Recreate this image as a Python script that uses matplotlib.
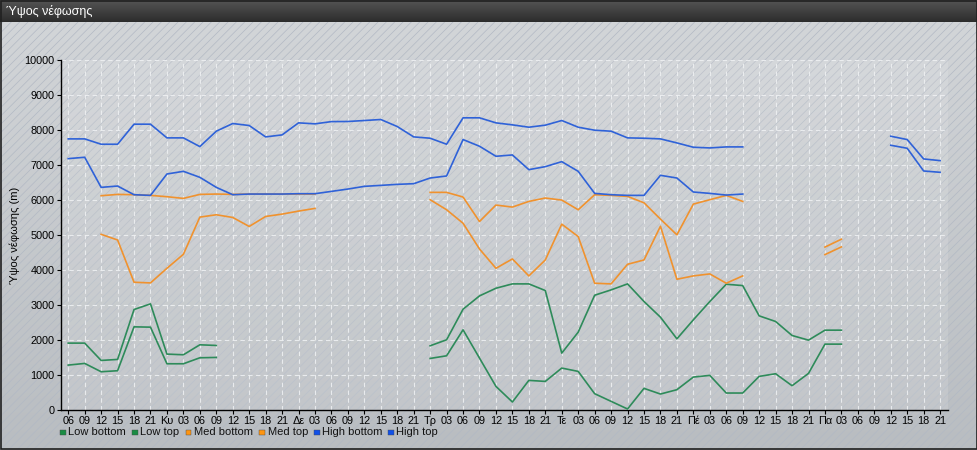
import numpy as np
import matplotlib
matplotlib.use("Agg")
import matplotlib.pyplot as plt
from matplotlib.patches import Rectangle
from matplotlib.colors import LinearSegmentedColormap

nan = np.nan

days = ["Κυ", "Δε", "Τρ", "Τε", "Πέ", "Πα"]
hours = ["03", "06", "09", "12", "15", "18", "21"]
tick_labels = ["06", "09", "12", "15", "18", "21"]
for d in days:
    tick_labels += [d] + hours

low_bottom = [1283, 1331, 1093, 1122, 2376, 2367, 1321, 1321, 1492, 1502,
              nan, nan, nan, nan, nan, nan, nan, nan, nan, nan, nan, nan,
              1473, 1549, 2291, 1483, 675, 228, 846, 817, 1198, 1103, 466, 247, 29, 618,
              456, 580, 941, 989, 485, 485, 960, 1036, 694, 1046, 1882, 1882,
              nan, nan, nan, nan, nan, nan]
low_top = [1911, 1911, 1416, 1445, 2871, 3032, 1597, 1578, 1863, 1844,
           nan, nan, nan, nan, nan, nan, nan, nan, nan, nan, nan, nan,
           1835, 2006, 2880, 3260, 3479, 3603, 3603, 3413, 1625, 2224, 3279, 3432, 3603, 3100,
           2652, 2034, 2576, 3099, 3593, 3555, 2690, 2529, 2129, 1996, 2281, 2281,
           nan, nan, nan, nan, nan, nan]
med_bottom = [nan, nan, 5019, 4857, 3650, 3631, 4049, 4449, 5511, 5578,
              5501, 5244, 5530, 5597, 5683, 5760, nan, nan, nan, nan, nan, nan,
              6008, 5721, 5336, 4600, 4049, 4316, 3831, 4287, 5310, 4955, 3622, 3603, 4163, 4287,
              5250, 3736, 3831, 3888, 3622, 3831, nan, nan, nan, nan, 4440, 4660,
              nan, nan, nan, nan, nan, nan]
med_top = [nan, nan, 6122, 6160, 6151, 6132, 6094, 6046, 6160, 6170,
           6160, 6170, 6170, 6170, 6170, 6170, nan, nan, nan, nan, nan, nan,
           6218, 6218, 6085, 5385, 5855, 5798, 5960, 6056, 5998, 5721, 6151, 6132, 6103, 5920,
           5454, 5005, 5883, 6008, 6132, 5960, nan, nan, nan, nan, 4655, 4880,
           nan, nan, nan, nan, nan, nan]
high_bottom = [7182, 7221, 6361, 6399, 6151, 6132, 6743, 6819, 6648, 6361,
               6151, 6170, 6170, 6170, 6180, 6180, 6246, 6313, 6390, 6418, 6447, 6466,
               6628, 6686, 7727, 7536, 7249, 7287, 6867, 6953, 7096, 6819, 6189, 6151, 6132, 6132,
               6705, 6628, 6228, 6189, 6141, 6170, nan, nan, nan, nan, nan, nan,
               nan, nan, 7564, 7478, 6829, 6791]
high_top = [7746, 7746, 7593, 7593, 8166, 8166, 7775, 7775, 7526, 7966,
            8185, 8128, 7803, 7860, 8204, 8176, 8240, 8243, 8271, 8300, 8099, 7803,
            7765, 7593, 8348, 8348, 8204, 8147, 8080, 8138, 8271, 8080, 7994, 7966, 7775, 7765,
            7746, 7631, 7507, 7488, 7517, 7517, nan, nan, nan, nan, nan, nan,
            nan, nan, 7822, 7727, 7173, 7125]

series_names = ["Low bottom", "Low top", "Med bottom", "Med top", "High bottom", "High top"]
series_values = [low_bottom, low_top, med_bottom, med_top, high_bottom, high_top]
line_colors = ["#2e8b5a", "#2e8b5a", "#f0922e", "#f0922e", "#2f62d8", "#2f62d8"]
legend_colors = ["#1a8c44", "#1a8c44", "#ff9510", "#ff9510", "#1050e8", "#1050e8"]

plt.rcParams['font.family'] = ['Liberation Sans', 'DejaVu Sans']
plt.rcParams['hatch.linewidth'] = 0.5

W, H = 978, 450
fig = plt.figure(figsize=(W / 100, H / 100), dpi=100)

# background
bg = fig.add_axes([0, 0, 1, 1], zorder=-5)
bg.set_xlim(0, W)
bg.set_ylim(H, 0)
bg.axis('off')
grad = np.linspace(0, 1, 256).reshape(-1, 1)
body_cmap = LinearSegmentedColormap.from_list("b", ["#d2d5d8", "#b9bdc1"])
bg.imshow(grad, extent=[0, W, H, 22], cmap=body_cmap, aspect='auto', zorder=0)
title_cmap = LinearSegmentedColormap.from_list("t", ["#555555", "#2c2c2c"])
bg.imshow(grad, extent=[0, W, 22, 0], cmap=title_cmap, aspect='auto', zorder=1)
bg.add_patch(Rectangle((0, 22), W, H - 22, facecolor='none', edgecolor='#b2b9c4',
                       hatch='////', linewidth=0, zorder=2))
bg.add_patch(Rectangle((0.5, 0.5), W - 1.5, H - 1.5, facecolor='none', edgecolor='#202020',
                       linewidth=1.2, zorder=3))
bg.text(6, 12, "Ύψος νέφωσης", color='white', fontsize=9, va='center', ha='left', zorder=4)

# legend (manual)
legend_x = [63, 135, 188.5, 262, 317, 391]
for lx, name, c in zip(legend_x, series_names, legend_colors):
    bg.add_patch(Rectangle((lx - 2.7, 432.3 - 2.7), 5.4, 5.4, facecolor=c, edgecolor='#4a4a4a',
                           linewidth=0.3, zorder=4))
    bg.text(lx + 5.5, 431.8, name, fontsize=8, va='center', ha='left', color='#111111', zorder=4)

# main axes
x0, x1, ytop, ybot = 61, 948, 60, 410
ax = fig.add_axes([x0 / W, (H - ybot) / H, (x1 - x0) / W, (ybot - ytop) / H])
ax.set_facecolor((1, 1, 1, 0.12))

xs = np.arange(len(tick_labels))
for name, vals, c in zip(series_names, series_values, line_colors):
    ax.plot(xs, np.array(vals, dtype=float), color=c, linewidth=1.2, label=name, zorder=3)

ax.set_xlim(-0.44, 53.48)
ax.set_ylim(0, 10000)
ax.set_xticks(xs)
ax.set_xticklabels(tick_labels, fontsize=7.8)
ax.set_yticks(np.arange(0, 10001, 1000))
ax.set_yticklabels([str(v) for v in range(0, 10001, 1000)], fontsize=7.8)
ax.tick_params(axis='both', length=3, width=0.8, color='black', pad=1.5, labelcolor='black')
for s in ['top', 'right']:
    ax.spines[s].set_visible(False)
for s in ['left', 'bottom']:
    ax.spines[s].set_color('black')
    ax.spines[s].set_linewidth(1.0)
ax.grid(True, color='#eef0f2', linestyle=(0, (4, 3)), linewidth=0.8, alpha=0.9, zorder=1)
ax.set_axisbelow(True)
ax.set_ylabel("Ύψος νέφωσης (m)", fontsize=8)
ax.yaxis.set_label_coords(-(x0 - 20) / (x1 - x0), 0.5)

fig.savefig("out.png", dpi=100)
